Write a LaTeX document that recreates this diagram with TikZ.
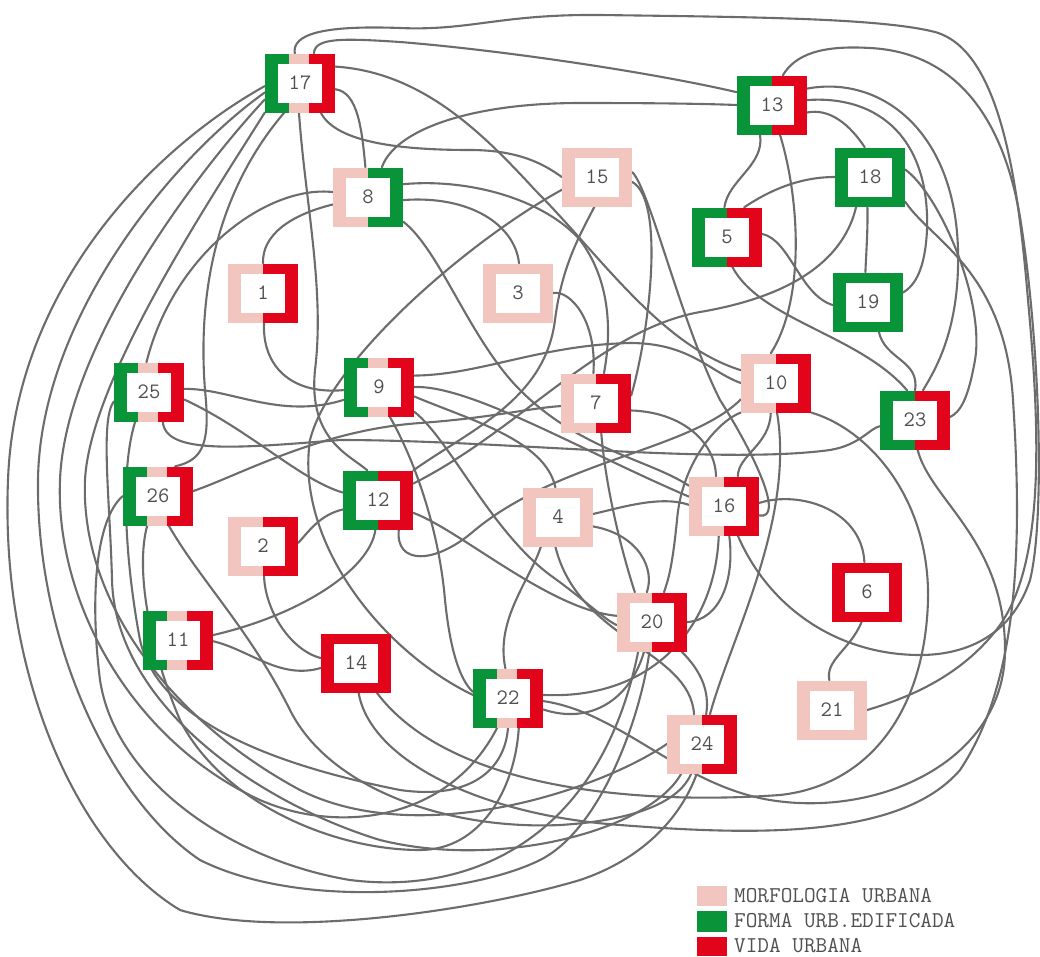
\documentclass[tikz,border=0pt]{standalone}
\usepackage{fontspec}
\pgfdeclarelayer{bg}
\pgfsetlayers{bg,main}
\definecolor{cg}{RGB}{10,148,58}
\definecolor{cr}{RGB}{226,4,26}
\definecolor{cp}{RGB}{242,198,190}
\definecolor{egray}{RGB}{108,108,108}
\definecolor{tgray}{RGB}{80,80,80}
\tikzset{
  kbox/.style={minimum width=70pt, minimum height=59pt, inner sep=0pt,
    font=\ttfamily\fontsize{22}{22}\selectfont, text=tgray},
  conn/.style={draw=egray, line width=2.1pt, line cap=round},
  legtext/.style={anchor=west, inner sep=0pt, text=tgray,
    font=\ttfamily\fontsize{22.6}{23}\selectfont},
}
% square frame, left half and right half coloured
\newcommand\twobox[5]{%
  \begin{scope}[shift={#2}]
    \fill[#4] (-35,-29.5) rectangle (0,29.5);
    \fill[#5] (0,-29.5) rectangle (35,29.5);
    \fill[white] (-22,-19.5) rectangle (22,19.5);
  \end{scope}
  \node[kbox] (#1) at #2 {#3};}
% square frame in three colours: green, pink, red
\newcommand\tribox[3]{%
  \begin{scope}[shift={#2}]
    \fill[cg] (-35,-29.5) rectangle (-11,29.5);
    \fill[cp] (-11,-29.5) rectangle (9,29.5);
    \fill[cr] (9,-29.5) rectangle (35,29.5);
    \fill[white] (-22,-19.5) rectangle (22,19.5);
  \end{scope}
  \node[kbox] (#1) at #2 {#3};}
\begin{document}
\begin{tikzpicture}[x=1pt,y=-1pt]
\useasboundingbox (0,0) rectangle (1040,956);

% ---- indicators ----
\tribox{n17}{(300,83)}{17}
\twobox{n13}{(772,105)}{13}{cg}{cr}
\twobox{n8}{(368,197)}{8}{cp}{cg}
\twobox{n15}{(597,177)}{15}{cp}{cp}
\twobox{n18}{(870,177)}{18}{cg}{cg}
\twobox{n5}{(727,237)}{5}{cg}{cr}
\twobox{n1}{(263,293)}{1}{cp}{cr}
\twobox{n3}{(518,293)}{3}{cp}{cp}
\twobox{n19}{(868,302)}{19}{cg}{cg}
\tribox{n25}{(149,392)}{25}
\tribox{n9}{(379,387)}{9}
\twobox{n7}{(596,403)}{7}{cp}{cr}
\twobox{n10}{(776,383)}{10}{cp}{cr}
\twobox{n23}{(915,420)}{23}{cg}{cr}
\tribox{n26}{(158,496)}{26}
\twobox{n12}{(378,500)}{12}{cg}{cr}
\twobox{n4}{(558,517)}{4}{cp}{cp}
\twobox{n16}{(724,506)}{16}{cp}{cr}
\twobox{n2}{(263,546)}{2}{cp}{cr}
\twobox{n6}{(867,592)}{6}{cr}{cr}
\tribox{n11}{(178,640)}{11}
\twobox{n20}{(652,622)}{20}{cp}{cr}
\twobox{n14}{(356,663)}{14}{cr}{cr}
\tribox{n22}{(508,698)}{22}
\twobox{n21}{(832,710)}{21}{cp}{cp}
\twobox{n24}{(702,744)}{24}{cp}{cr}

% ---- legend ----
\fill[cp] (697,886) rectangle (727,906);
\fill[cg] (697,911) rectangle (727,932);
\fill[cr] (697,937) rectangle (727,956);
\node[legtext] (lgm) at (734,896) {MORFOLOGIA URBANA};
\node[legtext] (lgf) at (734,921) {FORMA URB.EDIFICADA};
\node[legtext] (lgv) at (734,946) {VIDA URBANA};

% ---- relations ----
\begin{pgfonlayer}{bg}
\fill[white] (0,0) rectangle (1040,956);
% from 17
\draw[conn] (n17.100) .. controls (292,35) and (320,25) .. (400,28) .. controls (470,31) and (500,14) .. (600,15) .. controls (750,17) and (880,18) .. (935,32) .. controls (1000,50) and (1018,180) .. (1028,300) .. controls (1040,430) and (1045,560) .. (1000,625) .. controls (960,680) and (900,700) .. (n21.east);
\draw[conn] (n17.65) .. controls (315,38) and (340,38) .. (400,42) .. controls (500,50) and (650,72) .. (n13.160);
\draw[conn] (n17.25) .. controls (420,72) and (480,130) .. (535,190) .. controls (600,255) and (660,345) .. (n10.160);
\draw[conn] (n17.-10) .. controls (358,92) and (362,130) .. (n8.95);
\draw[conn] (n17.-55) .. controls (335,140) and (390,150) .. (470,150) .. controls (520,150) and (545,165) .. (n15.west);
\draw[conn] (n17.-92) .. controls (305,200) and (325,290) .. (315,370) .. controls (308,440) and (350,455) .. (n12.110);
\draw[conn] (n17.-118) .. controls (235,170) and (195,260) .. (205,390) .. controls (210,440) and (205,460) .. (n26.60);
\draw[conn] (n17.185) .. controls (150,150) and (15,290) .. (8,480) .. controls (0,680) and (80,850) .. (180,910) .. controls (280,940) and (480,910) .. (580,880) .. controls (640,860) and (680,820) .. (n24.-100);
\draw[conn] (n17.195) .. controls (170,160) and (40,320) .. (38,480) .. controls (36,640) and (110,800) .. (200,860) .. controls (300,910) and (470,895) .. (540,860) .. controls (600,830) and (640,720) .. (n20.-95);
\draw[conn] (n17.205) .. controls (190,180) and (65,350) .. (60,480) .. controls (55,600) and (130,740) .. (260,800) .. controls (340,835) and (450,820) .. (n22.-110);
\draw[conn] (n17.220) .. controls (210,200) and (90,380) .. (85,480) .. controls (80,600) and (170,720) .. (300,790) .. controls (420,850) and (600,790) .. (n24.west);
% from 8
\draw[conn] (n8.172) .. controls (270,185) and (175,250) .. (n25.95);
\draw[conn] (n8.192) .. controls (290,215) and (262,235) .. (n1.north);
\draw[conn] (n8.65) .. controls (395,130) and (470,103) .. (580,103) .. controls (670,103) and (710,104) .. (n13.west);
\draw[conn] (n8.20) .. controls (470,178) and (545,200) .. (580,240) .. controls (610,280) and (612,330) .. (n7.75);
\draw[conn] (n8.-5) .. controls (470,195) and (515,225) .. (n3.88);
\draw[conn] (n8.-35) .. controls (440,250) and (470,340) .. (520,390) .. controls (580,450) and (650,460) .. (n16.150);
% from 1, 25, 26
\draw[conn] (n1.-88) .. controls (262,365) and (290,395) .. (n9.185);
\draw[conn] (n25.5) .. controls (230,388) and (280,420) .. (n9.200);
\draw[conn] (n25.-12) .. controls (250,430) and (300,480) .. (n12.168);
\draw[conn] (n25.-65) .. controls (165,455) and (240,448) .. (340,440) .. controls (500,440) and (720,465) .. (830,450) .. controls (860,445) and (870,428) .. (n23.190);
\draw[conn] (n25.195) .. controls (100,420) and (110,500) .. (112,580) .. controls (115,700) and (250,800) .. (380,840) .. controls (500,870) and (650,830) .. (n24.-125);
\draw[conn] (n25.-115) .. controls (120,470) and (125,560) .. (140,640) .. controls (160,730) and (300,770) .. (400,790) .. controls (470,800) and (505,770) .. (n22.-90);
\draw[conn] (n26.8) .. controls (240,475) and (320,430) .. (420,423) .. controls (490,418) and (530,408) .. (n7.185);
\draw[conn] (n26.-70) .. controls (200,580) and (250,630) .. (290,710) .. controls (330,790) and (450,830) .. (560,825) .. controls (640,820) and (680,800) .. (n24.-110);
\draw[conn] (n26.west) .. controls (95,520) and (90,600) .. (100,680) .. controls (115,780) and (230,860) .. (350,880) .. controls (470,895) and (600,840) .. (n20.-115);
\draw[conn] (n26.-110) .. controls (135,570) and (150,650) .. (180,720) .. controls (220,800) and (330,850) .. (420,850) .. controls (480,850) and (515,790) .. (n22.-70);
% from 9
\draw[conn] (n9.18) .. controls (480,375) and (540,345) .. (630,343) .. controls (690,343) and (710,372) .. (n10.180);
\draw[conn] (n9.0) .. controls (470,385) and (580,450) .. (n16.165);
\draw[conn] (n9.-35) .. controls (450,440) and (490,530) .. (550,575) .. controls (585,600) and (605,620) .. (n20.185);
\draw[conn] (n9.-70) .. controls (420,470) and (440,540) .. (445,600) .. controls (450,650) and (460,680) .. (n22.170);
\draw[conn] (n9.-15) .. controls (470,420) and (545,440) .. (n4.95);
% from 12, 2, 11
\draw[conn] (n2.5) .. controls (310,530) and (320,515) .. (n12.195);
\draw[conn] (n12.-95) .. controls (370,570) and (300,615) .. (n11.8);
\draw[conn] (n12.-55) .. controls (395,565) and (435,565) .. (475,530) .. controls (560,460) and (690,450) .. (n10.205);
\draw[conn] (n12.25) .. controls (520,430) and (600,330) .. (700,312) .. controls (800,295) and (845,255) .. (n18.-115);
\draw[conn] (n12.-20) .. controls (460,530) and (550,610) .. (n20.170);
\draw[conn] (n12.40) .. controls (470,430) and (545,400) .. (555,320) .. controls (562,265) and (580,235) .. (n15.-95);
\draw[conn] (n2.-88) .. controls (265,610) and (290,650) .. (n14.172);
\draw[conn] (n11.-2) .. controls (250,650) and (280,680) .. (n14.188);
\draw[conn] (n15.-160) .. controls (470,240) and (330,360) .. (310,440) .. controls (295,540) and (380,650) .. (n22.175);
% from 13, 18, 5, 19
\draw[conn] (n13.25) .. controls (880,75) and (955,130) .. (958,250) .. controls (960,330) and (935,370) .. (n23.75);
\draw[conn] (n13.8) .. controls (880,95) and (930,140) .. (927,230) .. controls (925,270) and (915,285) .. (n19.15);
\draw[conn] (n13.-12) .. controls (830,108) and (850,125) .. (n18.100);
\draw[conn] (n13.-112) .. controls (765,165) and (728,180) .. (n5.95);
\draw[conn] (n13.-75) .. controls (800,200) and (805,300) .. (n10.100);
\draw[conn] (n13.70) .. controls (795,55) and (820,45) .. (870,48) .. controls (950,52) and (1005,110) .. (1022,230) .. controls (1040,350) and (1045,520) .. (1030,580) .. controls (1010,640) and (960,655) .. (920,655) .. controls (840,655) and (770,610) .. (n16.-65);
\draw[conn] (n18.180) .. controls (800,177) and (770,190) .. (n5.60);
\draw[conn] (n18.-95) .. controls (868,230) and (866,255) .. (n19.95);
\draw[conn] (n18.12) .. controls (940,195) and (985,300) .. (975,360) .. controls (968,400) and (960,412) .. (n23.5);
\draw[conn] (n18.-35) .. controls (930,240) and (1005,270) .. (1013,400) .. controls (1022,540) and (1020,680) .. (960,770) .. controls (900,840) and (750,835) .. (620,825) .. controls (480,815) and (370,760) .. (n14.-85);
\draw[conn] (n5.5) .. controls (790,240) and (800,295) .. (n19.185);
\draw[conn] (n5.-80) .. controls (760,320) and (860,335) .. (n23.105);
\draw[conn] (n19.-70) .. controls (885,360) and (920,360) .. (n23.90);
% from 10, 15, 7, 3
\draw[conn] (n10.-88) .. controls (795,520) and (730,640) .. (n24.75);
\draw[conn] (n10.-100) .. controls (770,445) and (738,455) .. (n16.65);
\draw[conn] (n10.-140) .. controls (720,420) and (682,460) .. (677,520) .. controls (672,570) and (668,580) .. (n20.68);
\draw[conn] (n10.-40) .. controls (870,430) and (930,500) .. (928,600) .. controls (925,710) and (870,785) .. (780,795) .. controls (640,805) and (450,790) .. (n14.-55);
\draw[conn] (n15.-8) .. controls (665,200) and (650,330) .. (n7.12);
\draw[conn] (n3.0) .. controls (570,290) and (597,320) .. (n7.95);
\draw[conn] (n7.-12) .. controls (680,412) and (715,440) .. (n16.105);
\draw[conn] (n15.8) .. controls (650,190) and (680,320) .. (720,400) .. controls (755,455) and (785,520) .. (n16.-15);
\draw[conn] (n7.-80) .. controls (605,480) and (618,540) .. (n20.120);
% from 16, 4, 20, 22, 6
\draw[conn] (n16.5) .. controls (800,490) and (862,510) .. (n6.95);
\draw[conn] (n16.-80) .. controls (735,580) and (720,620) .. (n20.0);
\draw[conn] (n16.-100) .. controls (715,630) and (650,700) .. (n22.5);
\draw[conn] (n4.5) .. controls (620,508) and (660,495) .. (n16.178);
\draw[conn] (n4.-15) .. controls (640,535) and (655,570) .. (n20.100);
\draw[conn] (n4.-95) .. controls (578,640) and (690,650) .. (n24.105);
\draw[conn] (n20.-45) .. controls (700,670) and (710,690) .. (n24.82);
\draw[conn] (n22.95) .. controls (495,620) and (530,580) .. (n4.-120);
\draw[conn] (n22.-18) .. controls (590,725) and (630,700) .. (n20.-105);
\draw[conn] (n22.-5) .. controls (620,712) and (680,785) .. (770,800) .. controls (880,818) and (1005,760) .. (1005,650) .. controls (1005,540) and (930,500) .. (n23.-85);
\draw[conn] (n6.-100) .. controls (850,650) and (825,660) .. (n21.95);
\end{pgfonlayer}
\end{tikzpicture}
\end{document}
